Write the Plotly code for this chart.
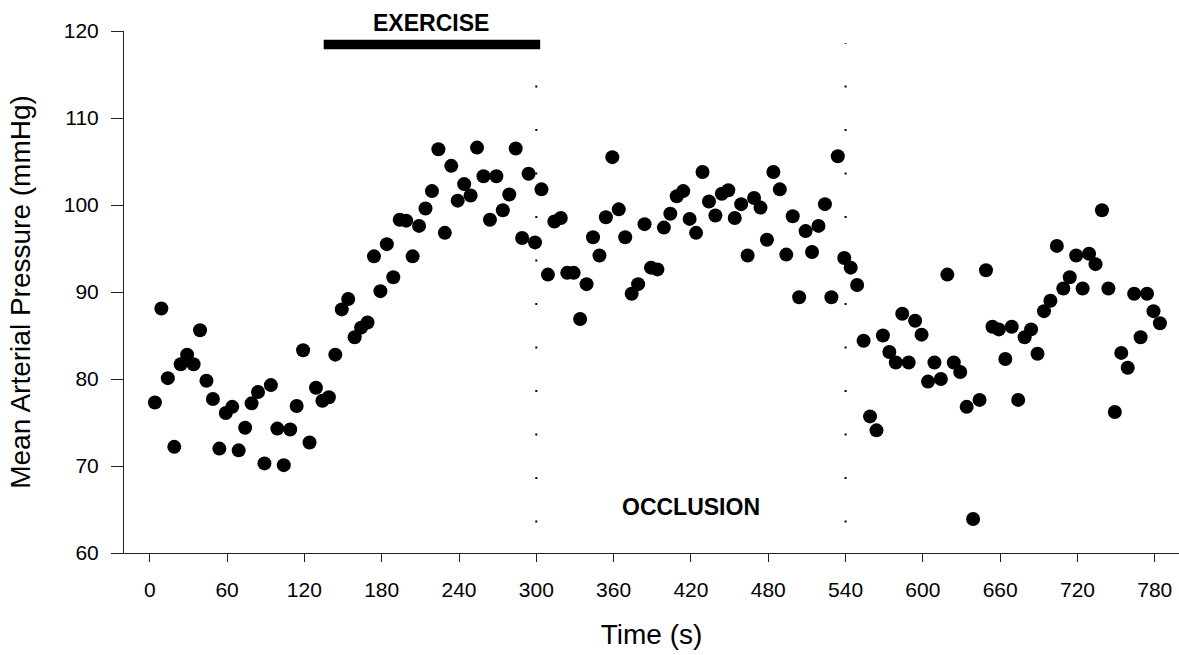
import plotly.graph_objects as go

# Sampling times (s) and mean arterial pressure readings (mmHg)
time_s = [
    4, 9, 14, 19, 24, 29, 34, 39, 44, 49, 54, 59, 64, 69, 74, 79, 84, 89, 94, 99,
    104, 109, 114, 119, 124, 129, 134, 139, 144, 149, 154, 159, 164, 169, 174, 179, 184, 189, 194, 199,
    204, 209, 214, 219, 224, 229, 234, 239, 244, 249, 254, 259, 264, 269, 274, 279, 284, 289, 294, 299,
    304, 309, 314, 319, 324, 329, 334, 339, 344, 349, 354, 359, 364, 369, 374, 379, 384, 389, 394, 399,
    404, 409, 414, 419, 424, 429, 434, 439, 444, 449, 454, 459, 464, 469, 474, 479, 484, 489, 494, 499,
    504, 509, 514, 519, 524, 529, 534, 539, 544, 549, 554, 559, 564, 569, 574, 579, 584, 589, 594, 599,
    604, 609, 614, 619, 624, 629, 634, 639, 644, 649, 654, 659, 664, 669, 674, 679, 684, 689, 694, 699,
    704, 709, 714, 719, 724, 729, 734, 739, 744, 749, 754, 759, 764, 769, 774, 779, 784,
]
map_mmhg = [
    77.3, 88.1, 80.1, 72.2, 81.7, 82.8, 81.7, 85.6, 79.8, 77.7, 72.0, 76.1, 76.8, 71.8, 74.4, 77.2, 78.5, 70.3, 79.3, 74.3,
    70.1, 74.2, 76.9, 83.3, 72.7, 79.0, 77.5, 77.9, 82.8, 88.0, 89.2, 84.8, 85.9, 86.5, 94.1, 90.1, 95.5, 91.7, 98.3, 98.2,
    94.1, 97.6, 99.6, 101.6, 106.4, 96.8, 104.5, 100.5, 102.4, 101.1, 106.6, 103.3, 98.3, 103.3, 99.4, 101.2, 106.5, 96.2, 103.6, 95.7,
    101.8, 92.0, 98.1, 98.5, 92.2, 92.2, 86.9, 90.9, 96.3, 94.2, 98.6, 105.5, 99.5, 96.3, 89.8, 90.9, 97.8, 92.8, 92.6, 97.4,
    99.0, 101.0, 101.6, 98.4, 96.8, 103.8, 100.4, 98.8, 101.3, 101.7, 98.5, 100.1, 94.2, 100.8, 99.7, 96.0, 103.8, 101.8, 94.3, 98.7,
    89.4, 97.0, 94.6, 97.6, 100.1, 89.4, 105.6, 93.9, 92.8, 90.8, 84.4, 75.7, 74.1, 85.0, 83.1, 81.9, 87.5, 81.9, 86.7, 85.1,
    79.7, 81.9, 80.0, 92.0, 81.9, 80.8, 76.8, 63.9, 77.6, 92.5, 86.0, 85.7, 82.3, 86.0, 77.6, 84.8, 85.7, 82.9, 87.8, 89.0,
    95.3, 90.4, 91.7, 94.2, 90.4, 94.4, 93.2, 99.4, 90.4, 76.2, 83.0, 81.3, 89.8, 84.8, 89.8, 87.8, 86.4,
]

x_ticks = [0, 60, 120, 180, 240, 300, 360, 420, 480, 540, 600, 660, 720, 780]
y_ticks = [60, 70, 80, 90, 100, 110, 120]

# Protocol phases
exercise_start, exercise_end = 135, 303
phase_marks = [300, 540]

FONT = "Liberation Sans, Arial, sans-serif"

fig = go.Figure()
fig.add_trace(go.Scatter(
    x=time_s, y=map_mmhg, mode="markers",
    marker=dict(size=14, color="black", line=dict(width=0)),
    showlegend=False, cliponaxis=False,
))

shapes = []
for xm in phase_marks:
    shapes.append(dict(
        type="line", xref="x", yref="y", x0=xm, x1=xm, y0=63.5, y1=118.6,
        line=dict(color="black", width=2, dash="2px,41.5px"), layer="below",
    ))
shapes.append(dict(
    type="rect", xref="x", yref="y", x0=exercise_start, x1=exercise_end,
    y0=117.9, y1=119.0, fillcolor="black", line=dict(width=0), layer="above",
))

annotations = [
    dict(text="<b>EXERCISE</b>", x=218, y=1.016, xref="x", yref="paper",
         xanchor="center", yanchor="middle",
         showarrow=False, font=dict(family=FONT, size=23, color="black")),
    dict(text="<b>OCCLUSION</b>", x=420, y=65.3, xref="x", yref="y",
         xanchor="center", yanchor="middle",
         showarrow=False, font=dict(family=FONT, size=23, color="black")),
]

fig.update_layout(
    width=1179, height=655,
    margin=dict(l=124, r=0, t=31, b=102),
    paper_bgcolor="white", plot_bgcolor="white",
    font=dict(family=FONT, color="black"),
    shapes=shapes, annotations=annotations,
)
fig.update_xaxes(
    range=[-20, 798.8], tickvals=x_ticks, ticktext=[str(v) for v in x_ticks],
    ticks="outside", ticklen=8, tickwidth=1, tickcolor="#222",
    showline=True, linecolor="#222", linewidth=1,
    showgrid=False, zeroline=False, ticklabelstandoff=10,
    tickfont=dict(family=FONT, size=21, color="black"),
    title=dict(text="Time (s)", font=dict(family=FONT, size=28, color="black"), standoff=24),
)
fig.update_yaxes(
    range=[60, 120], tickvals=y_ticks,
    ticks="outside", ticklen=12, tickwidth=1, tickcolor="#222",
    showline=True, linecolor="#222", linewidth=1,
    showgrid=False, zeroline=False, ticklabelstandoff=8,
    tickfont=dict(family=FONT, size=21, color="black"),
    title=dict(text="Mean Arterial Pressure (mmHg)", font=dict(family=FONT, size=28, color="black"), standoff=24),
)

fig.write_html("out.html")
